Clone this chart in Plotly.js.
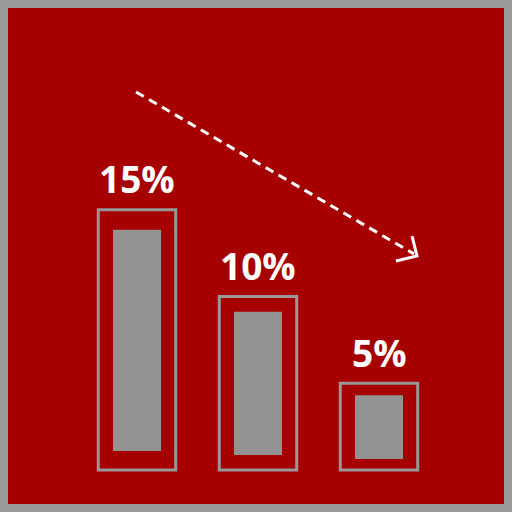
<!DOCTYPE html>
<html>
<head>
<meta charset="utf-8">
<script src="https://cdn.plot.ly/plotly-3.0.1.min.js"></script>
<style>
html,body{margin:0;padding:0;background:#9a9a9a;}
#chart{width:512px;height:512px;}
</style>
</head>
<body>
<div id="chart"></div>
<script>
// Data
const categories = ["A", "B", "C"];
const values = [15, 10, 5];
const labels = ["15%", "10%", "5%"];
// inner filled bars (same units)
const innerBase = [1.10, 0.86, 0.63];
const innerTop = [13.85, 9.13, 4.31];

const xIdx = categories.map((c, i) => i);

const outline = {
  type: "bar",
  x: xIdx,
  y: values,
  width: 0.64,
  marker: {color: "rgba(0,0,0,0)", line: {color: "#989898", width: 3}},
  hoverinfo: "skip",
  cliponaxis: false
};
const inner = {
  type: "bar",
  x: xIdx,
  y: innerTop.map((t, i) => t - innerBase[i]),
  base: innerBase,
  width: 0.397,
  marker: {color: "#939393", line: {width: 0}},
  hoverinfo: "skip"
};

const annotations = values.map((v, i) => ({
  x: i, y: v, xref: "x", yref: "y",
  text: labels[i], showarrow: false,
  yanchor: "middle", xanchor: "center", yshift: 31,
  font: {family: "Open Sans", size: 37, color: "#ffffff", weight: "bold"}
}));

const shapes = [
  {type: "line", xref: "x", yref: "y",
   x0: -0.008, y0: 21.8, x1: 2.289, y1: 12.46,
   line: {color: "#ffffff", width: 3, dash: "9px,6px"}},
  {type: "path", xref: "x", yref: "y",
   path: "M 2.273,13.49 L 2.314,12.34 L 2.140,12.05",
   line: {color: "#ffffff", width: 3}}
];

const layout = {
  width: 512, height: 512,
  margin: {l: 8, r: 8, t: 8, b: 8, pad: 0},
  paper_bgcolor: "#9a9a9a",
  plot_bgcolor: "#a60000",
  barmode: "overlay",
  showlegend: false,
  xaxis: {range: [-1.066, 3.033], visible: false, fixedrange: true},
  yaxis: {range: [-1.96, 26.64], visible: false, fixedrange: true},
  annotations: annotations,
  shapes: shapes
};

Plotly.newPlot("chart", [outline, inner], layout, {displayModeBar: false, staticPlot: true});
</script>
</body>
</html>
